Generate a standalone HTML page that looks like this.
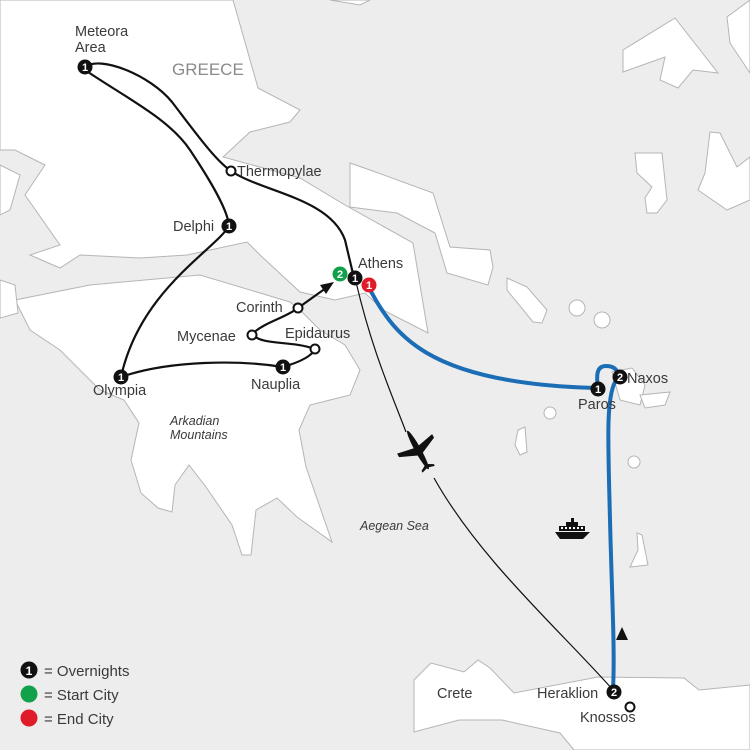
<!DOCTYPE html>
<html><head><meta charset="utf-8"><style>
html,body{margin:0;padding:0;background:#ededed}
svg{display:block}
text{font-family:"Liberation Sans",Arial,sans-serif;fill:#3a3a3a}
</style></head><body>
<svg width="750" height="750" viewBox="0 0 750 750" xmlns="http://www.w3.org/2000/svg">
<rect width="750" height="750" fill="#ededed"/>
<g fill="#fff" stroke="#b5b5b5" stroke-width="1">
<path d="M0 0 L233 0 L258 88 L300 110 L290 122 L250 132 L223 157 L300 178 L345 205 L413 243 L428 333 L383 310 L365 293 L335 300 L300 292 L260 255 L247 242 L187 255 L140 258 L80 255 L60 268 L30 255 L60 245 L25 195 L45 165 L15 150 L0 150 Z"/>
<path d="M350 163 L370 170 L433 193 L450 247 L490 250 L493 267 L488 285 L447 273 L435 233 L397 213 L350 207 Z"/>
<path d="M15 300 L90 285 L200 275 L290 302 L300 310 L320 330 L345 345 L360 370 L350 395 L330 400 L310 405 L299 430 L306 467 L332 542 L297 517 L277 498 L256 510 L251 555 L242 555 L232 525 L206 487 L189 465 L175 485 L172 512 L158 508 L141 493 L131 460 L139 423 L124 400 L100 390 L60 350 L30 330 Z"/>
<path d="M0 165 L20 175 L10 210 L0 215 Z"/>
<path d="M0 280 L15 285 L18 313 L0 318 Z"/>
<path d="M414 680 L431 663 L464 672 L478 660 L490 668 L514 693 L598 677 L684 678 L699 690 L750 685 L750 750 L574 750 L560 733 L502 720 L459 720 L414 732 Z"/>
<path d="M623 50 L675 18 L718 73 L693 70 L678 88 L660 80 L665 57 L623 72 Z"/>
<path d="M727 17 L750 0 L750 73 L730 43 Z"/>
<path d="M635 153 L662 153 L667 200 L657 213 L647 213 L645 198 L652 187 L637 173 Z"/>
<path d="M710 132 L720 133 L737 167 L750 157 L750 200 L727 210 L698 190 L705 173 Z"/>
<path d="M507 278 L527 287 L547 310 L542 323 L533 322 L507 290 Z"/>
<circle cx="577" cy="308" r="8"/><circle cx="602" cy="320" r="8"/>
<path d="M612 372 L632 368 L645 385 L640 405 L620 400 Z"/>
<path d="M640 395 L670 392 L665 405 L645 408 Z"/>
<circle cx="550" cy="413" r="6"/>
<path d="M518 430 L525 427 L527 452 L520 455 L515 445 Z"/>
<circle cx="634" cy="462" r="6"/>
<path d="M637 533 L642 535 L648 565 L630 567 L638 550 Z"/>
<path d="M330 0 L370 0 L360 5 Z"/>
</g>
<g fill="none" stroke="#111" stroke-width="2.2">
<path d="M85 67 C100 55 150 75 172 102 C195 132 215 160 231 171 C262 192 330 198 345 240 L354 278"/>
<path d="M88 72 C130 100 170 120 190 150 C210 180 228 210 229 226 C215 250 140 290 121 377"/>
<path d="M121 377 C170 360 240 360 283 367 C300 362 312 356 315 349 C290 340 262 346 252 334 C265 322 285 318 298 308 L326 288"/>
</g>
<path d="M334 282 L320 285 L326 294 Z" fill="#111"/>
<g fill="none" stroke="#111" stroke-width="1.2">
<path d="M356 282 C372 350 390 390 406 432"/>
<path d="M434 478 C480 560 560 630 613 690"/>
</g>
<g transform="translate(418,450) rotate(61)" fill="#111">
<ellipse cx="0" cy="0" rx="22" ry="3"/>
<path d="M-3 0 L-7 -20 L-3 -20 L6 0 L-3 20 L-7 20 Z"/>
<path d="M16 0 L20 -7 L22 -7 L20 0 L22 7 L20 7 Z"/>
</g>
<g fill="none" stroke="#1b6db5" stroke-width="4" stroke-linecap="round">
<path d="M368 286 C392 330 420 384 598 388"/>
<path d="M598 388 C596 374 597 366 606 366 C614 366 617 370 618 374"/>
<path d="M615 382 C606 400 608 440 610 520 C612 600 615 650 613 690"/>
</g>
<path d="M622 627 L616 640 L628 640 Z" fill="#111"/>
<g fill="#111">
<path d="M555 532 L590 532 L583 539 L560 539 Z"/>
<rect x="559" y="526" width="26" height="5"/>
<rect x="566" y="522" width="12" height="4"/>
<rect x="571" y="518" width="3" height="4"/>
</g>
<g fill="#fff"><rect x="561" y="527" width="2" height="2"/><rect x="565" y="527" width="2" height="2"/><rect x="569" y="527" width="2" height="2"/><rect x="573" y="527" width="2" height="2"/><rect x="577" y="527" width="2" height="2"/><rect x="581" y="527" width="2" height="2"/></g>
<g fill="#fff" stroke="#111" stroke-width="2">
<circle cx="231" cy="171" r="4.5"/><circle cx="298" cy="308" r="4.5"/>
<circle cx="252" cy="335" r="4.5"/><circle cx="315" cy="349" r="4.5"/>
<circle cx="630" cy="707" r="4.5"/>
</g>
<g font-size="11" font-weight="bold" text-anchor="middle">
<g><circle cx="85" cy="67" r="7.5" fill="#111"/><text x="85" y="71" style="fill:#fff">1</text></g>
<g><circle cx="229" cy="226" r="7.5" fill="#111"/><text x="229" y="230" style="fill:#fff">1</text></g>
<g><circle cx="340" cy="274" r="7.5" fill="#12a14b"/><text x="340" y="278" style="fill:#fff">2</text></g>
<g><circle cx="355" cy="278" r="7.5" fill="#111"/><text x="355" y="282" style="fill:#fff">1</text></g>
<g><circle cx="369" cy="285" r="7.5" fill="#e01b2a"/><text x="369" y="289" style="fill:#fff">1</text></g>
<g><circle cx="121" cy="377" r="7.5" fill="#111"/><text x="121" y="381" style="fill:#fff">1</text></g>
<g><circle cx="283" cy="367" r="7.5" fill="#111"/><text x="283" y="371" style="fill:#fff">1</text></g>
<g><circle cx="598" cy="389" r="7.5" fill="#111"/><text x="598" y="393" style="fill:#fff">1</text></g>
<g><circle cx="620" cy="377" r="7.5" fill="#111"/><text x="620" y="381" style="fill:#fff">2</text></g>
<g><circle cx="614" cy="692" r="7.5" fill="#111"/><text x="614" y="696" style="fill:#fff">2</text></g>
</g>
<g font-size="14.5">
<text x="75" y="36">Meteora</text><text x="75" y="52">Area</text>
<text x="172" y="75" font-size="17" style="fill:#8a8a8a">GREECE</text>
<text x="237" y="176">Thermopylae</text>
<text x="173" y="231">Delphi</text>
<text x="358" y="268">Athens</text>
<text x="236" y="312">Corinth</text>
<text x="177" y="341">Mycenae</text>
<text x="285" y="338">Epidaurus</text>
<text x="93" y="395">Olympia</text>
<text x="251" y="389">Nauplia</text>
<text x="578" y="409">Paros</text>
<text x="627" y="383">Naxos</text>
<text x="437" y="698">Crete</text>
<text x="537" y="698">Heraklion</text>
<text x="580" y="722">Knossos</text>
</g>
<g font-size="12.5" font-style="italic">
<text x="170" y="425">Arkadian</text><text x="170" y="439">Mountains</text>
<text x="360" y="530">Aegean Sea</text>
</g>
<circle cx="29" cy="670" r="8.5" fill="#111"/><text x="29" y="675" font-size="12" font-weight="bold" text-anchor="middle" style="fill:#fff">1</text>
<circle cx="29" cy="694" r="8.5" fill="#12a14b"/>
<circle cx="29" cy="718" r="8.5" fill="#e01b2a"/>
<g font-size="15"><text x="44" y="676">= Overnights</text><text x="44" y="700">= Start City</text><text x="44" y="724">= End City</text></g>
</svg>
</body></html>
